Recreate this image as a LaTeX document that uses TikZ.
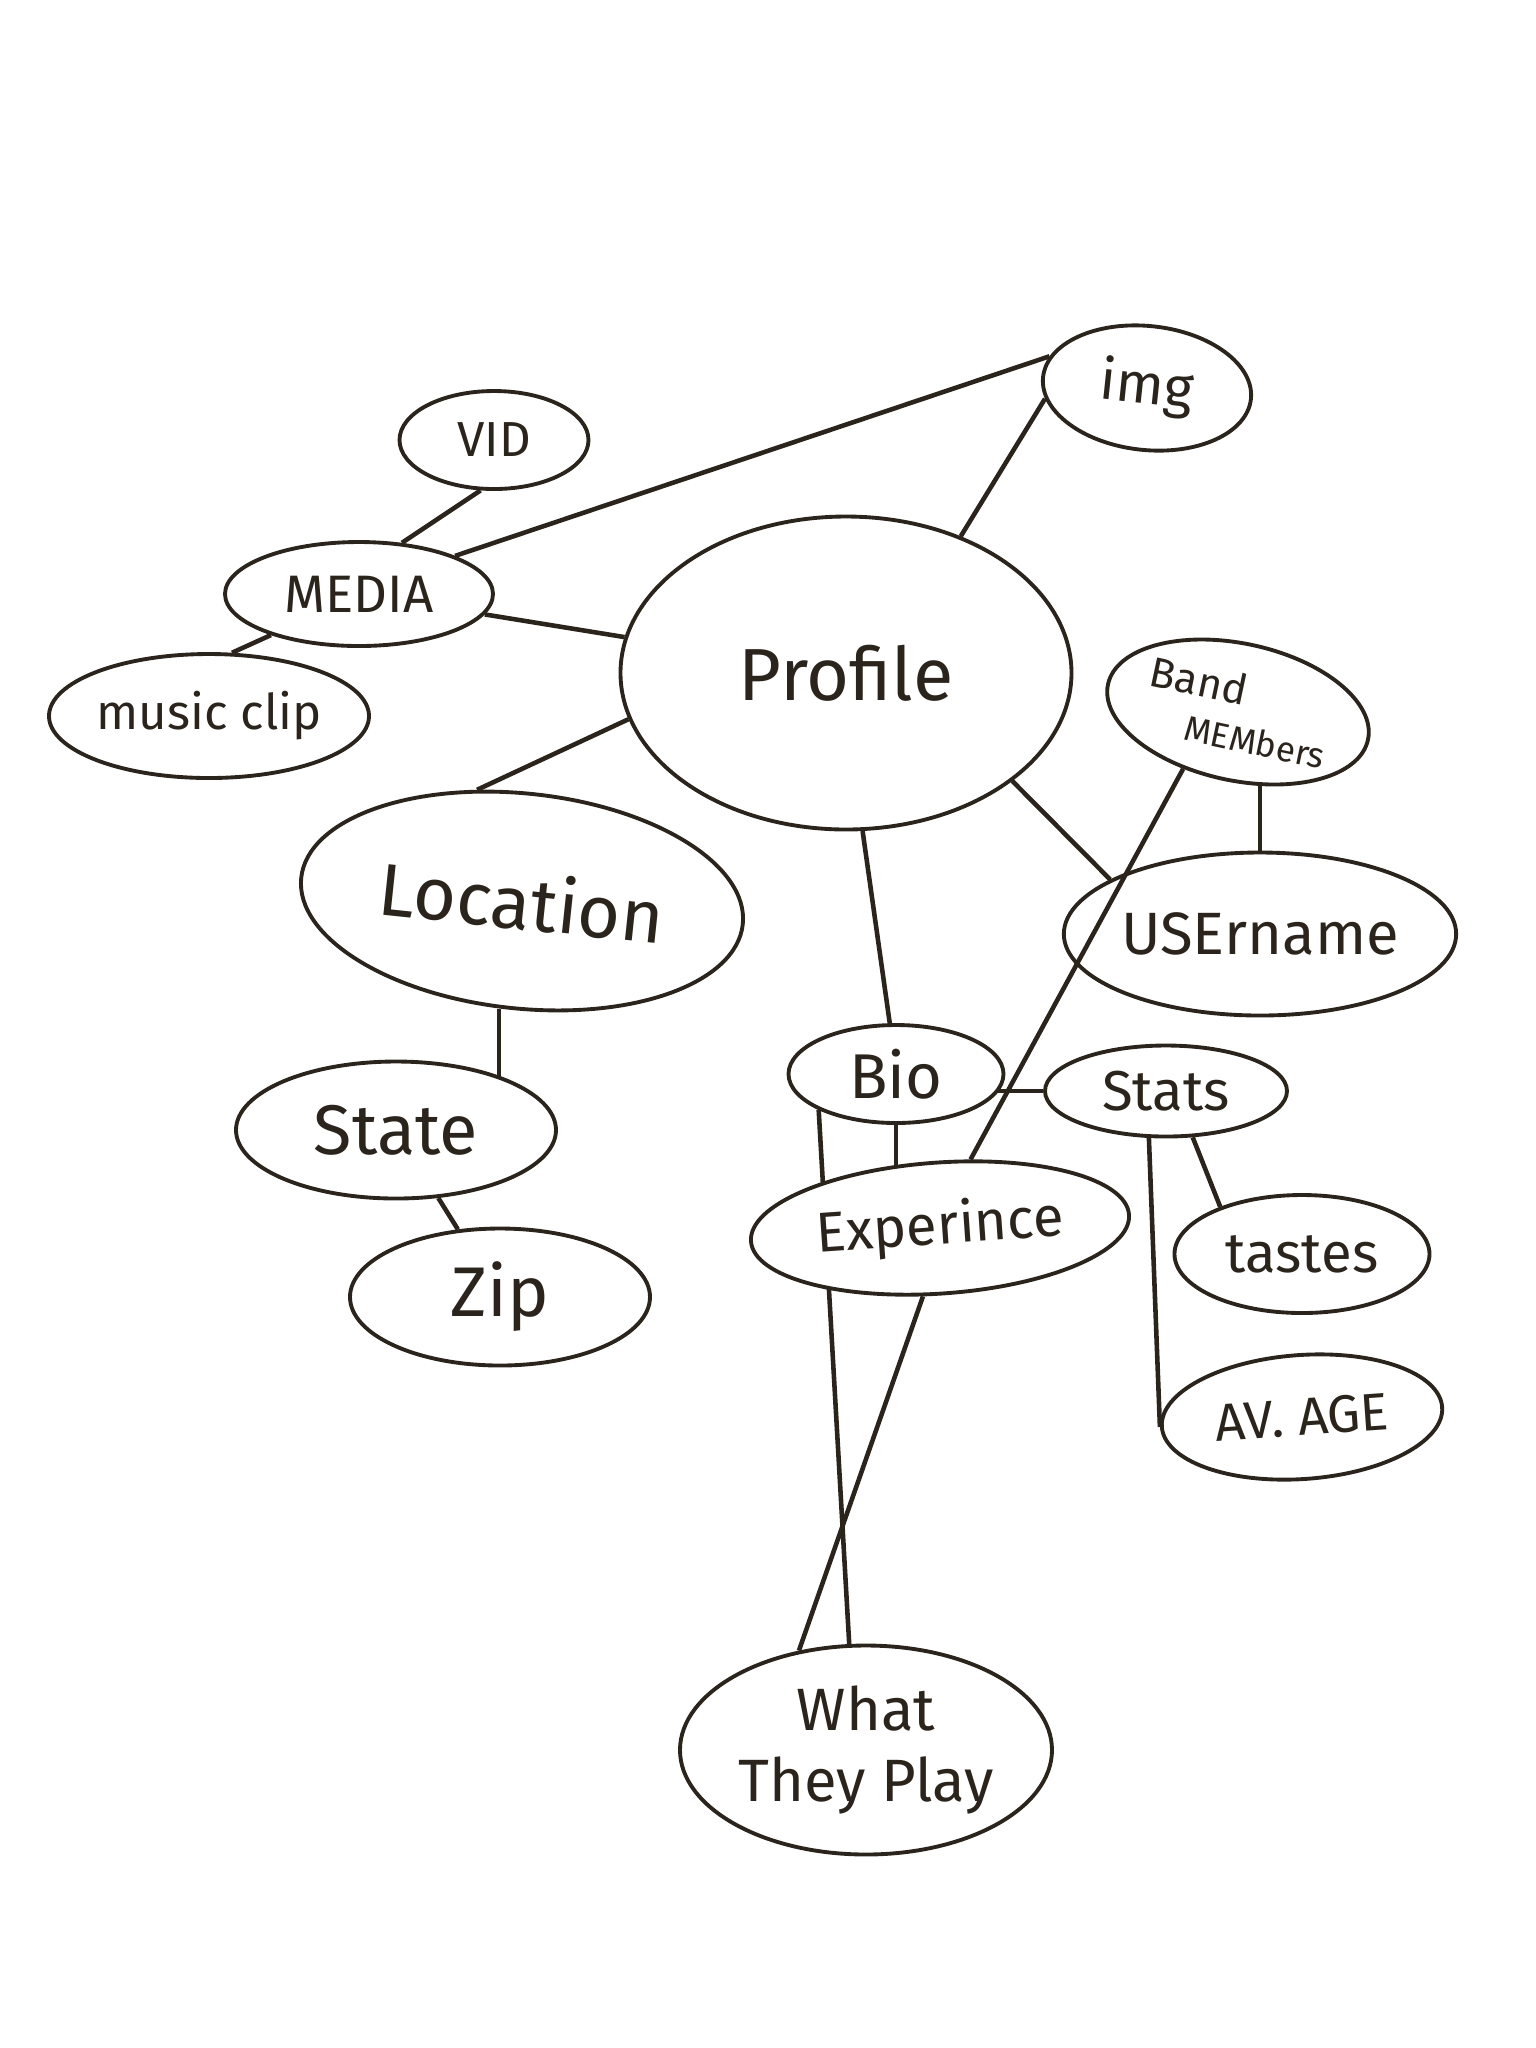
\documentclass[tikz,border=0pt]{standalone}
\usepackage{fontspec}
\setmainfont{Fira Sans}
\usetikzlibrary{shapes.geometric,backgrounds}
\definecolor{ink}{HTML}{2B241C}
\newcommand{\fs}[1]{\fontsize{#1}{#1}\selectfont}
\begin{document}
\begin{tikzpicture}[bubble/.style={ellipse,draw=ink,fill=white,inner sep=0pt,line width=1.1pt,text=ink},
link/.style={draw=ink,line width=1.3pt}]
\useasboundingbox (0,0) rectangle (15.36,-20.48);
\node[bubble,minimum width=4.51cm,minimum height=3.13cm] (profile) at (8.46,-6.73) {\fs{21}Profile};
\node[bubble,minimum width=2.09cm,minimum height=1.24cm,rotate=-6] (img) at (11.47,-3.88) {\fs{16}img};
\node[bubble,minimum width=1.89cm,minimum height=0.98cm] (vid) at (4.94,-4.40) {\fs{14}VID};
\node[bubble,minimum width=2.68cm,minimum height=1.04cm] (media) at (3.59,-5.94) {\fs{15}MEDIA};
\node[bubble,minimum width=3.20cm,minimum height=1.24cm] (clip) at (2.09,-7.16) {\fs{14}music clip};
\node[bubble,minimum width=2.55cm,minimum height=1.37cm,rotate=-12,align=left] (band) at (12.38,-7.12) {\fs{12}Band\\[1pt]\hspace*{0.45cm}\fs{10}MEMbers};
\node[bubble,minimum width=4.44cm,minimum height=2.15cm,rotate=-6] (location) at (5.22,-9.01) {\fs{21}Location};
\node[bubble,minimum width=3.40cm,minimum height=1.63cm] (username) at (12.60,-9.34) {\fs{17}USErname};
\node[bubble,minimum width=2.15cm,minimum height=0.98cm] (bio) at (8.96,-10.74) {\fs{18}Bio};
\node[bubble,minimum width=2.42cm,minimum height=0.91cm] (stats) at (11.66,-10.91) {\fs{16}Stats};
\node[bubble,minimum width=3.20cm,minimum height=1.37cm] (state) at (3.96,-11.30) {\fs{20}State};
\node[bubble,minimum width=3.79cm,minimum height=1.31cm,rotate=4] (exp) at (9.40,-12.28) {\fs{16}Experince};
\node[bubble,minimum width=2.55cm,minimum height=1.18cm] (tastes) at (13.02,-12.54) {\fs{16}tastes};
\node[bubble,minimum width=3.00cm,minimum height=1.37cm] (zip) at (5.00,-12.97) {\fs{20}Zip};
\node[bubble,minimum width=2.81cm,minimum height=1.24cm,rotate=4] (avage) at (13.02,-14.17) {\fs{15}AV. AGE};
\node[bubble,minimum width=3.72cm,minimum height=2.09cm,align=center] (play) at (8.66,-17.50) {\fs{17}What\\[6pt]\fs{17}They Play};
\begin{pgfonlayer}{background}
\draw[link] (media.north east) -- (img.168);
\draw[link] (media.50) -- (vid.255);
\draw[link] (media.205) -- (clip.70);
\draw[link] (media) -- (profile);
\draw[link] (img.192) -- (profile.50);
\draw[link] (profile.192) -- (location.118);
\draw[link] (profile.-33) -- (username.160);
\draw[link] (profile.276) -- (bio.97);
\draw[link] (username.north) -- (username.north |- band.center);
\draw[link] (location.264) -- (location.264 |- state);
\draw[link] (state) -- (zip);
\draw[link] (stats.west) -- (stats.west -| bio.center);
\draw[link] (bio.205) -- (play.99);
\draw[link] (bio) -- (bio |- exp);
\draw[link] (exp.252) -- (play.124);
\draw[link] (stats.300) -- (tastes.150);
\draw[link] (stats.250) -- (avage.west);
\end{pgfonlayer}
\draw[link] (band.238) -- (exp.62);
\end{tikzpicture}
\end{document}
